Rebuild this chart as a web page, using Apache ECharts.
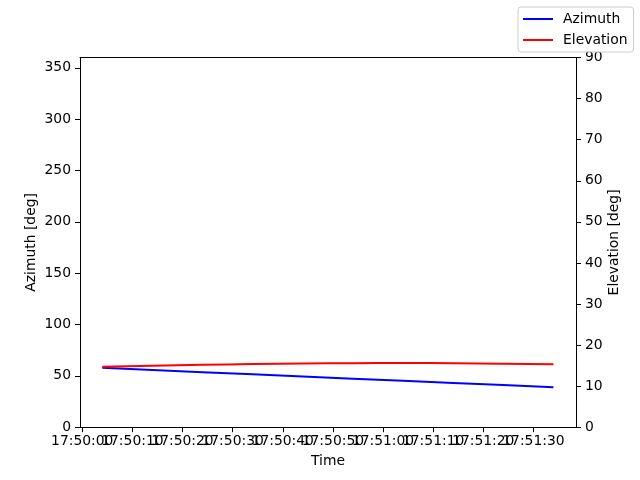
<!DOCTYPE html>
<html><head><meta charset="utf-8">
<script src="https://cdn.jsdelivr.net/npm/echarts@6/dist/echarts.min.js"></script>
<style>html,body{margin:0;padding:0;background:#fff}#c{width:640px;height:480px}</style>
</head><body><div id="c"></div>
<script>
var times = ["17:50:04","17:50:14","17:50:24","17:50:34","17:50:44","17:50:54","17:51:04","17:51:14","17:51:24","17:51:34"];
var azimuth = [57.8, 55.7, 53.6, 51.5, 49.4, 47.3, 45.2, 43.1, 41.0, 38.9];
var elevation = [14.70, 14.98, 15.20, 15.37, 15.50, 15.58, 15.62, 15.58, 15.48, 15.33];
var timeTicks = ["17:50:00","17:50:10","17:50:20","17:50:30","17:50:40","17:50:50","17:51:00","17:51:10","17:51:20","17:51:30"];
var azTicks = [0,50,100,150,200,250,300,350];
var elTicks = [0,10,20,30,40,50,60,70,80,90];

function toSec(s){var p=s.split(':');return (+p[0])*3600+(+p[1])*60+(+p[2]);}
var t0 = toSec(timeTicks[0]);
function fmt(v){var s=Math.round(t0+v);var h=Math.floor(s/3600),m=Math.floor(s%3600/60),x=s%60;
  function z(n){return (n<10?'0':'')+n;} return z(h)+':'+z(m)+':'+z(x);}
var xTickVals = timeTicks.map(function(s){return toSec(s)-t0;});
var xEven = xTickVals.filter(function(v,i){return i%2===0;});
var xOdd = xTickVals.filter(function(v,i){return i%2===1;});
var azData = times.map(function(s,i){return [toSec(s)-t0, azimuth[i]];});
var elData = times.map(function(s,i){return [toSec(s)-t0, elevation[i]];});

var FONT = 'DejaVu Sans';
var txt = {color:'#000', fontFamily:FONT, fontSize:13.9};
var XMIN = -0.45, XMAX = 98.5;
function xLabelAxis(vals, withLine){
  return {
    type:'value', min:XMIN, max:XMAX, position:'bottom',
    name: withLine ? 'Time' : '', nameLocation:'middle', nameGap:27, nameMoveOverlap:false, nameTextStyle:txt,
    axisLine:{show:withLine, onZero:false, lineStyle:{color:'#000', width:1}},
    axisTick:{show:withLine, length:5, lineStyle:{color:'#000'}, customValues:xTickVals},
    axisLabel:{show:true, color:'#000', fontFamily:FONT, fontSize:13.9, margin:7, showMinLabel:true, showMaxLabel:true, customValues:vals, formatter:function(v){return fmt(v);}},
    splitLine:{show:false}
  };
}
var chart = echarts.init(document.getElementById('c'), null, {renderer:'canvas'});
chart.setOption({
  animation:false,
  textStyle:{fontFamily:FONT},
  grid:{left:80, right:64, top:57.6, bottom:52.8, show:false, containLabel:false},
  legend:{
    show:true, orient:'vertical', left:518, top:7, bottom:'auto', right:'auto',
    icon:'rect', itemWidth:30, itemHeight:2, itemGap:5,
    borderColor:'#cccccc', borderWidth:1, borderRadius:3, padding:[4,6,4,5],
    backgroundColor:'rgba(255,255,255,0.8)',
    textStyle:{color:'#000', fontFamily:FONT, fontSize:13.9, lineHeight:16, padding:[0,0,0,5]}
  },
  xAxis:[
    xLabelAxis(xEven, true),
    xLabelAxis(xOdd, false),
    {
      type:'value', min:XMIN, max:XMAX, position:'top',
      axisLine:{show:true, onZero:false, lineStyle:{color:'#000', width:1}},
      axisTick:{show:false}, axisLabel:{show:false}, splitLine:{show:false}
    }
  ],
  yAxis:[{
    type:'value', min:0, max:360, position:'left',
    name:'Azimuth [deg]', nameLocation:'middle', nameGap:42, nameMoveOverlap:false, nameRotate:90, nameTextStyle:txt,
    axisLine:{show:true, onZero:false, lineStyle:{color:'#000'}},
    axisTick:{show:true, length:5, lineStyle:{color:'#000'}, customValues:azTicks},
    axisLabel:{color:'#000', fontFamily:FONT, fontSize:13.9, margin:9, customValues:azTicks},
    splitLine:{show:false}
  },{
    type:'value', min:0, max:90, position:'right',
    name:'Elevation [deg]', nameLocation:'middle', nameGap:31, nameMoveOverlap:false, nameRotate:90, nameTextStyle:txt,
    axisLine:{show:true, onZero:false, lineStyle:{color:'#000'}},
    axisTick:{show:true, length:5, lineStyle:{color:'#000'}, customValues:elTicks},
    axisLabel:{color:'#000', fontFamily:FONT, fontSize:13.9, margin:9, customValues:elTicks},
    splitLine:{show:false}
  }],
  series:[
    {name:'Azimuth', type:'line', xAxisIndex:0, yAxisIndex:0, data:azData, symbol:'none', smooth:false, lineStyle:{color:'#0000ff', width:2}, itemStyle:{color:'#0000ff'}},
    {name:'Elevation', type:'line', xAxisIndex:0, yAxisIndex:1, data:elData, symbol:'none', smooth:true, lineStyle:{color:'#ff0000', width:2}, itemStyle:{color:'#ff0000'}}
  ]
});
</script></body></html>
